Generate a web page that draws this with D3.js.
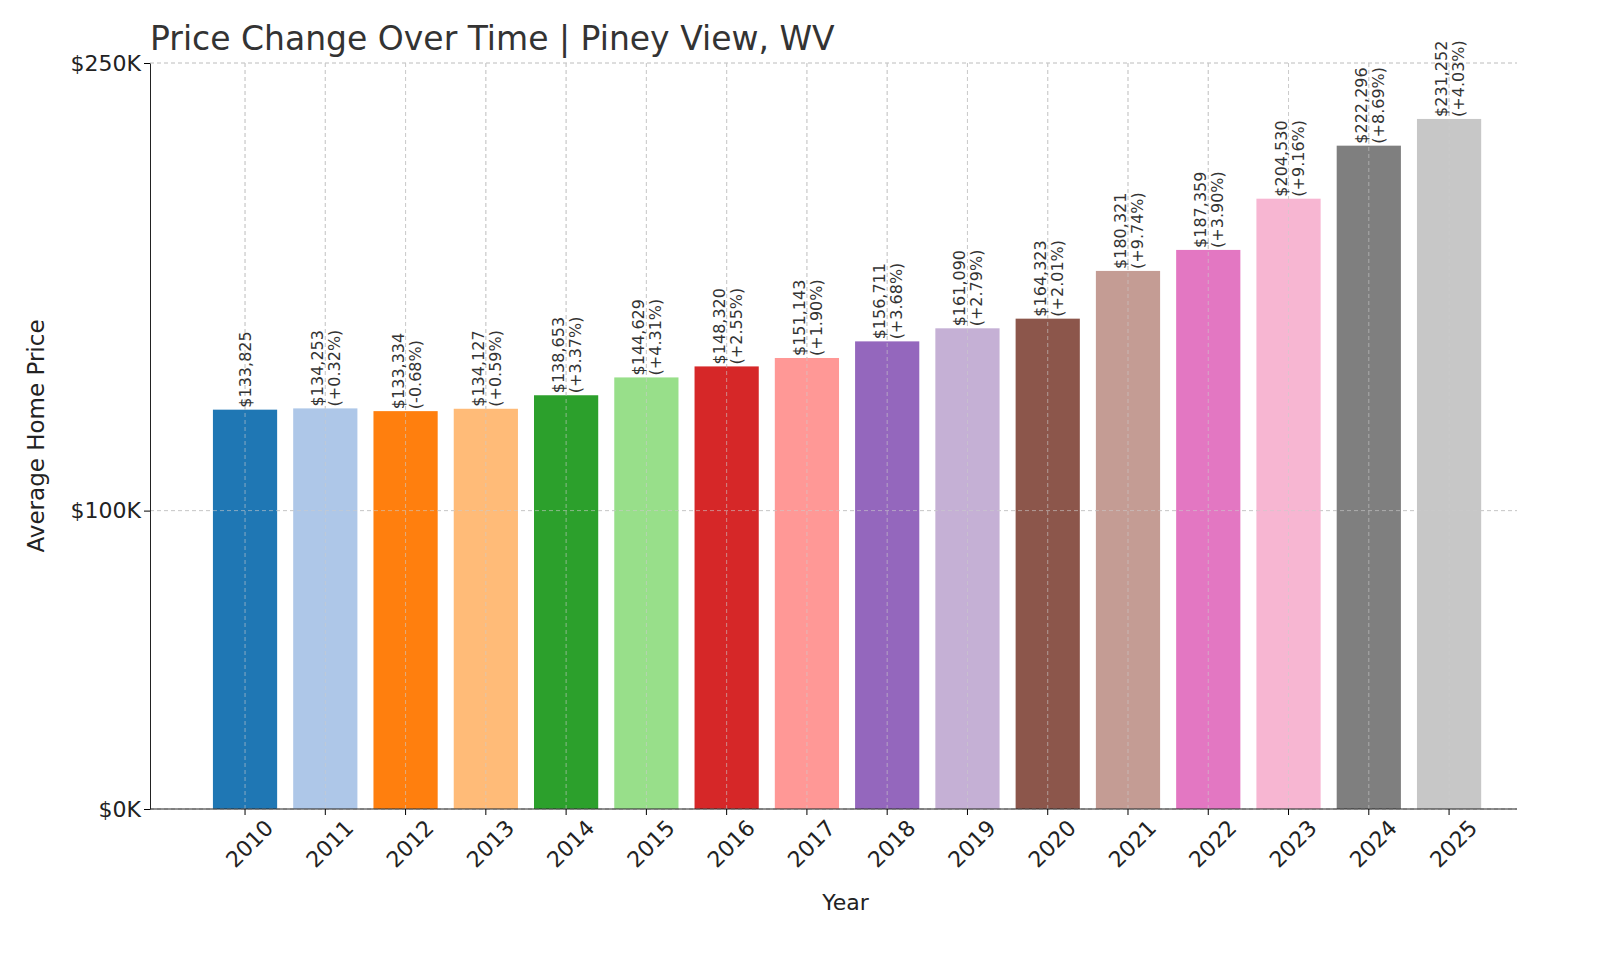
<!DOCTYPE html>
<html><head><meta charset="utf-8">
<script src="https://cdn.jsdelivr.net/npm/d3@7/dist/d3.min.js"></script>
<style>body{margin:0;background:#fff}text{font-family:"DejaVu Sans",sans-serif}</style>
</head><body><svg id="c" width="1600" height="960"></svg>
<script>
const years=["2010","2011","2012","2013","2014","2015","2016","2017","2018","2019","2020","2021","2022","2023","2024","2025"];
const values=[133825,134253,133334,134127,138653,144629,148320,151143,156711,161090,164323,180321,187359,204530,222296,231252];
const changes=[null,"+0.32%","-0.68%","+0.59%","+3.37%","+4.31%","+2.55%","+1.90%","+3.68%","+2.79%","+2.01%","+9.74%","+3.90%","+9.16%","+8.69%","+4.03%"];
const colors=["#1f77b4","#aec7e8","#ff7f0e","#ffbb78","#2ca02c","#98df8a","#d62728","#ff9896","#9467bd","#c5b0d5","#8c564b","#c49c94","#e377c2","#f7b6d2","#7f7f7f","#c7c7c7"];
const yTicks=[0,100000,250000];
const svg=d3.select("#c");
const L=150,R=1517,T=63,B=809;
const x=d3.scaleBand().domain(years).range([204.9,1489.2]).paddingInner(0.2).paddingOuter(0.1);
const y=d3.scaleLinear().domain([0,250000]).range([B,T]);
const g=svg.append("g");
g.selectAll(".hg").data(yTicks).join("line").attr("x1",L).attr("x2",R).attr("y1",d=>y(d)).attr("y2",d=>y(d)).attr("stroke","#ccc").attr("stroke-dasharray","4,3");
g.selectAll(".vg").data(years).join("line").attr("x1",d=>x(d)+x.bandwidth()/2).attr("x2",d=>x(d)+x.bandwidth()/2).attr("y1",T).attr("y2",B).attr("stroke","#ccc").attr("stroke-dasharray","4,3");
g.selectAll("rect").data(years).join("rect").attr("x",d=>x(d)).attr("width",x.bandwidth()).attr("y",(d,i)=>y(values[i])).attr("height",(d,i)=>B-y(values[i])).attr("fill",(d,i)=>colors[i]);
g.selectAll(".vg2").data(years).join("line").attr("x1",d=>x(d)+x.bandwidth()/2).attr("x2",d=>x(d)+x.bandwidth()/2).attr("y1",T).attr("y2",B).attr("stroke","#ccc").attr("stroke-opacity",0.6).attr("stroke-dasharray","4,3");
g.selectAll(".hg2").data(yTicks).join("line").attr("x1",L).attr("x2",R).attr("y1",d=>y(d)).attr("y2",d=>y(d)).attr("stroke","#ccc").attr("stroke-opacity",0.6).attr("stroke-dasharray","4,3");
years.forEach((yr,i)=>{
  const cx=x(yr)+x.bandwidth()/2, ty=y(values[i])-2;
  const t=g.append("text").attr("transform",`translate(${cx},${ty}) rotate(-90)`).attr("font-size",16).attr("fill","#333");
  if(changes[i]){
    t.append("tspan").attr("x",0).attr("y",-2).text("$"+d3.format(",")(values[i]));
    t.append("tspan").attr("x",0).attr("y",15).text("("+changes[i]+")");
  } else {
    t.append("tspan").attr("x",0).attr("y",6).text("$"+d3.format(",")(values[i]));
  }
});
const ya=svg.append("g").attr("transform",`translate(${L},0)`).call(d3.axisLeft(y).tickValues(yTicks).tickFormat(d=>"$"+(d/1000)+"K").tickSizeOuter(0));
ya.selectAll("text").attr("font-size",22).attr("fill","#222");
ya.select(".domain").attr("stroke","#222");
const xa=svg.append("g").attr("transform",`translate(0,${B})`).call(d3.axisBottom(x).tickSizeOuter(0));
xa.select(".domain").attr("d",`M${L},0H${R}`).attr("stroke","#222");
xa.selectAll("text").attr("font-size",22).attr("fill","#222").attr("text-anchor","end").attr("dx","0.3em").attr("dy","1.2em").attr("transform","rotate(-45)");
svg.append("text").attr("x",L).attr("y",50).attr("font-size",33).attr("fill","#333").text("Price Change Over Time | Piney View, WV");
svg.append("text").attr("x",(L+R)/2+12).attr("y",910).attr("text-anchor","middle").attr("font-size",22).attr("fill","#222").text("Year");
svg.append("text").attr("transform",`translate(44,436) rotate(-90)`).attr("text-anchor","middle").attr("font-size",23).attr("fill","#222").text("Average Home Price");
</script></body></html>
